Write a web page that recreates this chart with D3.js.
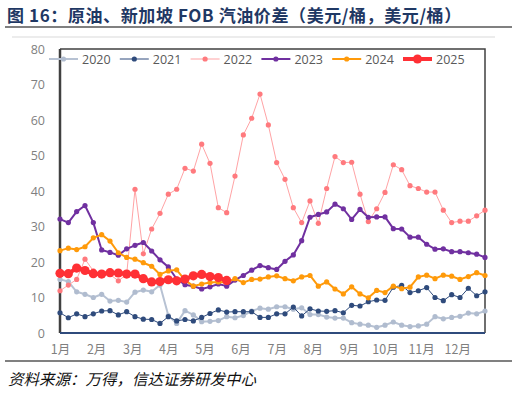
<!DOCTYPE html>
<html>
<head>
<meta charset="utf-8">
<script src="https://cdn.jsdelivr.net/npm/d3@7"></script>
<style>
  body { margin: 0; background: #fff; }
  svg { display: block; }
</style>
</head>
<body>
<div id="chart"></div>
<script>
// weekly spreads, USD/bbl
const months = ['1月', '2月', '3月', '4月', '5月', '6月', '7月', '8月', '9月', '10月', '11月', '12月'];
const yTicks = [0, 10, 20, 30, 40, 50, 60, 70, 80];
const years = ['2020', '2021', '2022', '2023', '2024', '2025'];

const s2020 = [15.1, 14.5, 11.6, 10.9, 10.0, 10.9, 9.0, 9.2, 8.7, 11.5, 12.1, 11.6, 13.5, 4.9, 2.7, 6.3, 5.1, 3.2, 3.3, 3.5,
  4.6, 4.3, 4.9, 6.2, 7.0, 6.7, 7.4, 7.4, 6.7, 7.1, 5.2, 5.2, 4.5, 4.2, 4.2, 2.9, 2.5, 2.2, 1.6, 2.2,
  3.1, 2.2, 1.8, 2.0, 2.5, 4.6, 4.0, 4.4, 4.7, 5.6, 5.4, 6.2];
const s2021 = [5.7, 4.3, 5.4, 4.6, 5.4, 6.2, 6.3, 5.1, 6.0, 4.6, 3.9, 3.8, 2.7, 4.6, 3.4, 3.8, 3.4, 4.4, 5.5, 6.5,
  5.9, 6.0, 6.0, 6.0, 4.4, 4.4, 5.4, 5.4, 7.3, 4.8, 6.8, 6.2, 6.1, 6.3, 5.7, 7.8, 7.6, 8.8, 9.3, 9.2,
  12.9, 13.4, 11.4, 11.9, 12.8, 10.0, 9.1, 10.8, 10.0, 12.6, 10.5, 11.6];
const s2022 = [11.9, 13.5, 15.1, 20.8, 17.5, 16.8, 16.5, 14.7, 16.5, 40.5, 22.3, 29.3, 33.7, 39.1, 40.5, 46.4, 45.6, 53.2, 47.8, 35.3,
  33.9, 44.2, 55.8, 60.5, 67.3, 58.6, 48.0, 43.3, 35.3, 31.1, 37.2, 30.9, 40.7, 49.7, 48.0, 48.1, 39.1, 31.4, 35.0, 39.6,
  47.4, 46.0, 41.5, 40.7, 39.7, 39.7, 34.6, 31.1, 31.5, 31.5, 33.0, 34.6];
const s2023 = [32.1, 31.1, 34.2, 35.9, 31.1, 23.4, 22.7, 21.9, 23.7, 24.7, 25.5, 23.1, 20.6, 18.6, 15.2, 13.6, 13.2, 12.4, 13.0, 13.8,
  13.2, 14.9, 16.2, 17.7, 19.0, 18.4, 17.9, 20.2, 22.0, 26.0, 32.6, 33.4, 34.1, 36.3, 35.0, 32.0, 34.8, 32.6, 32.7, 32.7,
  29.4, 29.3, 27.0, 27.0, 25.0, 23.6, 23.7, 22.9, 22.9, 22.6, 22.2, 21.3];
const s2024 = [23.2, 23.9, 23.5, 24.3, 26.8, 27.7, 25.9, 22.6, 21.3, 20.8, 19.8, 18.8, 16.5, 17.5, 17.8, 14.9, 13.2, 13.8, 14.2, 14.4,
  14.3, 15.3, 14.2, 15.1, 15.2, 15.8, 16.1, 15.3, 14.7, 15.8, 16.2, 13.2, 14.4, 12.4, 11.0, 13.0, 11.0, 9.9, 12.0, 11.4,
  13.2, 12.5, 12.9, 15.8, 16.3, 15.3, 16.3, 16.0, 15.1, 15.9, 17.0, 16.2];
const s2025 = [16.8, 16.7, 18.3, 17.6, 16.7, 16.6, 17.0, 16.9, 16.6, 16.6, 15.3, 14.4, 14.5, 15.0, 14.7, 15.2, 16.1, 16.5, 15.9, 15.6,
  14.8];

const styles = {
  '2020': { line: '#b7c2d3', dot: '#b0bccf', w: 2, r: 2.6 },
  '2021': { line: '#2f4b7c', dot: '#2f4b7c', w: 1, r: 2.6 },
  '2022': { line: '#ffa3a5', dot: '#ff7a7e', w: 1, r: 2.6 },
  '2023': { line: '#7030a0', dot: '#7030a0', w: 2, r: 2.6 },
  '2024': { line: '#ff9a0a', dot: '#ff9a0a', w: 2, r: 2.6 },
  '2025': { line: '#ff3035', dot: '#ff3035', w: 4, r: 4.6 }
};
const series = [s2020, s2021, s2022, s2023, s2024, s2025];

const width = 518, height = 394;
const plotL = 60, plotR = 485, plotT = 49, plotB = 333;

const svg = d3.select('#chart').append('svg')
  .attr('width', width)
  .attr('height', height);

// title + rules
svg.append('text')
  .attr('x', 7).attr('y', 22)
  .attr('fill', '#1f3864')
  .attr('font-family', 'Noto Sans CJK SC')
  .attr('font-weight', 'bold')
  .attr('font-size', 17)
  .attr('letter-spacing', 0.6)
  .text('图 16：原油、新加坡 FOB 汽油价差（美元/桶，美元/桶）');
svg.append('line').attr('x1', 5).attr('x2', 512).attr('y1', 27).attr('y2', 27)
  .attr('stroke', '#808080').attr('stroke-width', 2);
svg.append('line').attr('x1', 12).attr('x2', 495).attr('y1', 37).attr('y2', 37)
  .attr('stroke', '#d9d9d9').attr('stroke-width', 1);

let x = d3.scaleLinear().domain([0, 51]).range([plotL, plotR]);
let y = d3.scaleLinear().domain([0, 80]).range([plotB, plotT]);

// y axis labels
let yAxis = svg.append('g')
  .attr('transform', `translate(${plotL}, 0)`)
  .call(d3.axisLeft(y).tickValues(yTicks).tickSize(0).tickPadding(15));
yAxis.select('.domain').remove();
yAxis.selectAll('text')
  .attr('fill', '#7f7f7f')
  .attr('font-family', 'Open Sans')
  .attr('font-size', 12.5);

// x axis labels, months spaced 52/12 weeks apart
let xAxis = svg.append('g')
  .attr('transform', `translate(0, ${plotB})`)
  .call(d3.axisBottom(x)
    .tickValues(months.map((m, i) => i * 52 / 12))
    .tickFormat((d, i) => months[i])
    .tickSize(0).tickPadding(12));
xAxis.select('.domain').remove();
xAxis.selectAll('text')
  .attr('fill', '#7f7f7f')
  .attr('font-family', 'Noto Sans CJK SC')
  .attr('font-size', 12.5);

// plot frame
svg.append('path')
  .attr('d', `M${plotL},${plotT}H${plotR}V${plotB}`)
  .attr('fill', 'none').attr('stroke', '#404040').attr('stroke-width', 1.5);
svg.append('line').attr('x1', plotL).attr('x2', plotL).attr('y1', plotT).attr('y2', plotB)
  .attr('stroke', '#404040').attr('stroke-width', 2.5);
svg.append('line').attr('x1', plotL).attr('x2', plotR).attr('y1', plotB).attr('y2', plotB)
  .attr('stroke', '#2f4b7c').attr('stroke-width', 2);

let line = d3.line().x((d, i) => x(i)).y(d => y(d));

series.forEach((data, k) => {
  let st = styles[years[k]];
  let g = svg.append('g').attr('class', 'series-' + years[k]);
  g.append('path').datum(data)
    .attr('d', line)
    .attr('fill', 'none')
    .attr('stroke', st.line)
    .attr('stroke-width', st.w)
    .attr('stroke-linejoin', 'round');
  g.selectAll('circle').data(data).enter().append('circle')
    .attr('cx', (d, i) => x(i))
    .attr('cy', d => y(d))
    .attr('r', st.r)
    .attr('fill', st.dot);
});

// legend
let legend = svg.append('g').attr('transform', 'translate(49, 59)');
years.forEach((yr, k) => {
  let st = styles[yr];
  let item = legend.append('g').attr('transform', `translate(${k * 70.8}, 0)`);
  item.append('line').attr('x1', 0).attr('x2', 29).attr('y1', 0).attr('y2', 0)
    .attr('stroke', st.line).attr('stroke-width', st.w);
  item.append('circle').attr('cx', 14.5).attr('cy', 0).attr('r', st.r).attr('fill', st.dot);
  item.append('text').attr('x', 33).attr('y', 4.5)
    .attr('fill', '#595959')
    .attr('font-family', 'Open Sans')
    .attr('font-size', 12.5)
    .text(yr);
});

// source footer
svg.append('line').attr('x1', 5).attr('x2', 512).attr('y1', 361).attr('y2', 361)
  .attr('stroke', '#808080').attr('stroke-width', 2);
svg.append('text')
  .attr('x', 8).attr('y', 385)
  .attr('font-family', 'Noto Sans CJK SC')
  .attr('font-style', 'italic')
  .attr('font-size', 15.5)
  .attr('fill', '#111')
  .text('资料来源：万得，信达证券研发中心');
</script>
</body>
</html>
